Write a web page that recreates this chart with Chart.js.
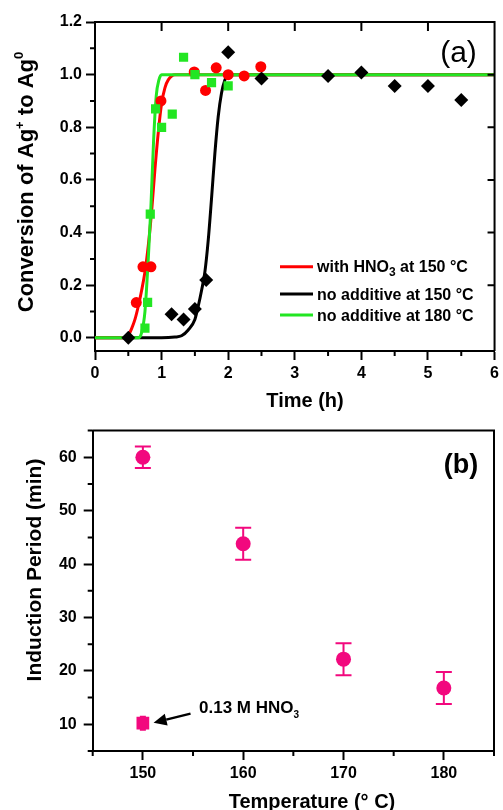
<!DOCTYPE html>
<html>
<head>
<meta charset="utf-8">
<script src="https://cdn.jsdelivr.net/npm/chart.js@4.4.0/dist/chart.umd.min.js"></script>
<style>
  html, body { margin: 0; padding: 0; background: #fff; }
  #wrapA { position: absolute; left: 0; top: 0; width: 503px; height: 414px; }
  #wrapB { position: absolute; left: 0; top: 414px; width: 503px; height: 396px; }
</style>
</head>
<body>
<div id="wrapA"><canvas id="chartA" width="503" height="414"></canvas></div>
<div id="wrapB"><canvas id="chartB" width="503" height="396"></canvas></div>
<script>
// === panel (a): measured points ===
const hno3Time = [0.62, 0.72, 0.84, 0.99, 1.49, 1.66, 1.82, 2.0, 2.24, 2.49];
const hno3Conv = [0.134, 0.27, 0.27, 0.90, 1.01, 0.94, 1.026, 1.0, 0.995, 1.03];
const noAdd150Time = [0.5, 1.15, 1.33, 1.5, 1.67, 2.0, 2.5, 3.5, 4.0, 4.5, 5.0, 5.5];
const noAdd150Conv = [0.0, 0.09, 0.07, 0.11, 0.22, 1.085, 0.985, 0.995, 1.008, 0.957, 0.957, 0.904];
const noAdd180Time = [0.75, 0.79, 0.83, 0.91, 1.0, 1.16, 1.33, 1.5, 1.75, 2.0];
const noAdd180Conv = [0.037, 0.135, 0.47, 0.87, 0.80, 0.85, 1.066, 1.0, 0.97, 0.957];

// fitted curves
const fitHno3Time = [0, 0.4, 0.5, 0.55, 0.6, 0.65, 0.7, 0.75, 0.8, 0.85, 0.9, 0.95, 1.0, 1.05, 1.1, 1.2, 6];
const fitHno3Conv = [0, 0, 0.01, 0.035, 0.07, 0.12, 0.18, 0.25, 0.35, 0.48, 0.64, 0.78, 0.89, 0.95, 0.98, 1.0, 1.0];
const fit150Time = [0, 1.0, 1.2, 1.3, 1.4, 1.5, 1.55, 1.6, 1.65, 1.7, 1.75, 1.8, 1.85, 1.9, 1.95, 2.0, 6];
const fit150Conv = [0, 0, 0.003, 0.008, 0.03, 0.07, 0.12, 0.18, 0.25, 0.37, 0.53, 0.7, 0.84, 0.93, 0.98, 1.0, 1.0];
const fit180Time = [0, 0.65, 0.7, 0.75, 0.8, 0.84, 0.88, 0.92, 0.96, 1.0, 6];
const fit180Conv = [0, 0, 0.02, 0.1, 0.3, 0.5, 0.75, 0.92, 0.98, 1.0, 1.0];

const timeTicks = [0, 1, 2, 3, 4, 5, 6];
const timeMinor = [0.5, 1.5, 2.5, 3.5, 4.5, 5.5];
const convTicks = [0, 0.2, 0.4, 0.6, 0.8, 1.0, 1.2];
const convMinor = [0.1, 0.3, 0.5, 0.7, 0.9, 1.1];

// === panel (b) ===
const tempC = [150, 160, 170, 180];
const inductionMin = [60, 43.8, 22.2, 16.8];
const inductionErr = [2, 3, 3, 3];
const hno3TempC = [150];
const hno3Induction = [10.2];
const hno3Err = [1.2];

const tempTicks = [150, 160, 170, 180];
const tempMinor = [145, 155, 165, 175, 185];
const inductTicks = [10, 20, 30, 40, 50, 60];
const inductMinor = [5, 15, 25, 35, 45, 55, 65];

const RED = '#ff0000', BLACK = '#000000', GREEN = '#22e622', PINK = '#f2087e';
const FONT = '"Liberation Sans", Arial, sans-serif';

function pts(xs, ys) {
  return xs.map((x, i) => ({ x: x, y: ys[i] }));
}

// draw text made of parts [text, size, dy]
function drawRich(ctx, parts, x, y, align) {
  let total = 0;
  parts.forEach(p => {
    ctx.font = (p[3] || 'bold') + ' ' + p[1] + 'px ' + FONT;
    total += ctx.measureText(p[0]).width;
  });
  let cx = align === 'center' ? x - total / 2 : x;
  ctx.textAlign = 'left';
  ctx.textBaseline = 'alphabetic';
  parts.forEach(p => {
    ctx.font = (p[3] || 'bold') + ' ' + p[1] + 'px ' + FONT;
    ctx.fillText(p[0], cx, y + p[2]);
    cx += ctx.measureText(p[0]).width;
  });
}

function axis(min, max, ticks, fmt, fit, isY, pad) {
  return {
    type: 'linear',
    min: min,
    max: max,
    afterBuildTicks: s => { s.ticks = ticks.map(v => ({ value: v })); },
    afterFit: s => { if (isY) s.width = fit; else s.height = fit; },
    ticks: {
      callback: v => fmt(v),
      color: '#000',
      padding: pad,
      font: { family: FONT, size: 16, weight: 'bold' }
    },
    grid: { display: true, drawOnChartArea: false, drawTicks: true, tickLength: 9, tickWidth: 2, tickColor: '#000' },
    border: { display: true, width: 2, color: '#000' }
  };
}

function minorTicks(ctx, chart, xs, ys, len) {
  const a = chart.chartArea;
  ctx.beginPath();
  xs.forEach(v => {
    const px = chart.scales.x.getPixelForValue(v);
    ctx.moveTo(px, a.bottom); ctx.lineTo(px, a.bottom + len);
  });
  ys.forEach(v => {
    const py = chart.scales.y.getPixelForValue(v);
    ctx.moveTo(a.left, py); ctx.lineTo(a.left - len, py);
  });
  ctx.stroke();
}

// === chart (a) ===
const panelA = {
  id: 'panelA',
  afterDraw(chart) {
    const ctx = chart.ctx, a = chart.chartArea;
    const sx = chart.scales.x, sy = chart.scales.y;
    ctx.save();
    ctx.strokeStyle = '#000';
    ctx.lineWidth = 2;
    ctx.beginPath();
    ctx.moveTo(a.left, a.top); ctx.lineTo(a.right, a.top); ctx.lineTo(a.right, a.bottom);
    // inward ticks on top and right
    timeTicks.slice(1, -1).forEach(v => {
      const px = sx.getPixelForValue(v);
      ctx.moveTo(px, a.top); ctx.lineTo(px, a.top + 9);
    });
    convTicks.slice(1, -1).forEach(v => {
      const py = sy.getPixelForValue(v);
      ctx.moveTo(a.right, py); ctx.lineTo(a.right - 7, py);
    });
    ctx.stroke();
    minorTicks(ctx, chart, timeMinor, convMinor, 5);

    ctx.fillStyle = '#000';
    // axis titles
    drawRich(ctx, [['Time (h)', 20, 0]], 305, 407, 'center');
    ctx.save();
    ctx.translate(33, 182);
    ctx.rotate(-Math.PI / 2);
    drawRich(ctx, [['Conversion of Ag', 22, 0], ['+', 13, -9], [' to Ag', 22, 0], ['0', 13, -10]], 0, 0, 'center');
    ctx.restore();
    // panel label
    drawRich(ctx, [['(a)', 30, 0, 'normal']], 458.5, 62, 'center');

    // legend
    const rows = [
      { c: RED, y: 266.7, parts: [['with HNO', 16, 0], ['3', 12, 4], [' at 150 \u00b0C', 16, 0]] },
      { c: BLACK, y: 294, parts: [['no additive at 150 \u00b0C', 16, 0]] },
      { c: GREEN, y: 315, parts: [['no additive at 180 \u00b0C', 16, 0]] }
    ];
    rows.forEach(r => {
      ctx.strokeStyle = r.c;
      ctx.lineWidth = 3;
      ctx.beginPath();
      ctx.moveTo(280, r.y); ctx.lineTo(313, r.y);
      ctx.stroke();
      ctx.fillStyle = '#000';
      drawRich(ctx, r.parts, 317, r.y + 5.5, 'left');
    });
    ctx.restore();
  }
};

const fitStyle = { showLine: true, pointRadius: 0, borderWidth: 3, cubicInterpolationMode: 'monotone' };

new Chart(document.getElementById('chartA'), {
  type: 'scatter',
  data: {
    datasets: [
      { data: pts(noAdd180Time, noAdd180Conv), pointStyle: 'rect', pointRadius: 6.5, backgroundColor: GREEN, borderColor: GREEN, borderWidth: 0 },
      { data: pts(hno3Time, hno3Conv), pointStyle: 'circle', pointRadius: 5.5, backgroundColor: RED, borderColor: RED, borderWidth: 0 },
      { data: pts(noAdd150Time, noAdd150Conv), pointStyle: 'rectRot', pointRadius: 7, backgroundColor: BLACK, borderColor: BLACK, borderWidth: 0 },
      Object.assign({ data: pts(fit180Time, fit180Conv), borderColor: GREEN }, fitStyle),
      Object.assign({ data: pts(fitHno3Time, fitHno3Conv), borderColor: RED }, fitStyle),
      Object.assign({ data: pts(fit150Time, fit150Conv), borderColor: BLACK }, fitStyle)
    ]
  },
  options: {
    responsive: false,
    animation: false,
    layout: { padding: { top: 22, right: 4, left: 0, bottom: 0 } },
    plugins: { legend: { display: false }, tooltip: { enabled: false } },
    scales: {
      x: axis(0, 6, timeTicks, v => String(v), 63, false, 4),
      y: axis(-0.05, 1.2, convTicks, v => v.toFixed(1), 95, true, 4)
    }
  },
  plugins: [panelA]
});

// === chart (b) ===
const panelB = {
  id: 'panelB',
  beforeDatasetsDraw(chart) {
    const ctx = chart.ctx, sx = chart.scales.x, sy = chart.scales.y;
    ctx.save();
    ctx.strokeStyle = PINK;
    ctx.lineWidth = 2;
    ctx.beginPath();
    const bars = (xs, ys, es, cap) => xs.forEach((x, i) => {
      const px = sx.getPixelForValue(x);
      const top = sy.getPixelForValue(ys[i] + es[i]);
      const bot = sy.getPixelForValue(ys[i] - es[i]);
      ctx.moveTo(px, top); ctx.lineTo(px, bot);
      ctx.moveTo(px - cap, top); ctx.lineTo(px + cap, top);
      ctx.moveTo(px - cap, bot); ctx.lineTo(px + cap, bot);
    });
    bars(tempC, inductionMin, inductionErr, 8);
    bars(hno3TempC, hno3Induction, hno3Err, 3);
    ctx.stroke();
    ctx.restore();
  },
  afterDraw(chart) {
    const ctx = chart.ctx, a = chart.chartArea;
    const sx = chart.scales.x, sy = chart.scales.y;
    ctx.save();
    ctx.strokeStyle = '#000';
    ctx.lineWidth = 2;
    ctx.beginPath();
    ctx.moveTo(a.left, a.top); ctx.lineTo(a.right, a.top); ctx.lineTo(a.right, a.bottom);
    ctx.stroke();
    minorTicks(ctx, chart, tempMinor, inductMinor, 5);

    ctx.fillStyle = '#000';
    drawRich(ctx, [['Temperature (\u00b0 C)', 20, 0]], 312, 394, 'center');
    ctx.save();
    ctx.translate(41, 570 - 414);
    ctx.rotate(-Math.PI / 2);
    drawRich(ctx, [['Induction Period (min)', 21, 0]], 0, 0, 'center');
    ctx.restore();
    drawRich(ctx, [['(b)', 27, 0]], 461, 59, 'center');

    // annotation with arrow
    const tx = sx.getPixelForValue(155.6), ty = sy.getPixelForValue(12.1);
    drawRich(ctx, [['0.13 M HNO', 17, 0], ['3', 10, 5]], tx, ty, 'left');
    const x0 = sx.getPixelForValue(154.75), y0 = sy.getPixelForValue(12.0);
    const x1 = sx.getPixelForValue(151.07), y1 = sy.getPixelForValue(10.3);
    const ang = Math.atan2(y1 - y0, x1 - x0);
    const hl = 13, hw = 6;
    const bx = x1 - hl * Math.cos(ang), by = y1 - hl * Math.sin(ang);
    ctx.lineWidth = 2.5;
    ctx.beginPath();
    ctx.moveTo(x0, y0); ctx.lineTo(bx, by);
    ctx.stroke();
    ctx.beginPath();
    ctx.moveTo(x1, y1);
    ctx.lineTo(bx + hw * Math.sin(ang), by - hw * Math.cos(ang));
    ctx.lineTo(bx - hw * Math.sin(ang), by + hw * Math.cos(ang));
    ctx.closePath();
    ctx.fill();
    ctx.restore();
  }
};

new Chart(document.getElementById('chartB'), {
  type: 'scatter',
  data: {
    datasets: [
      { data: pts(tempC, inductionMin), pointStyle: 'circle', pointRadius: 7.5, backgroundColor: PINK, borderColor: PINK, borderWidth: 0 },
      { data: pts(hno3TempC, hno3Induction), pointStyle: 'rect', pointRadius: 9, backgroundColor: PINK, borderColor: PINK, borderWidth: 0 }
    ]
  },
  options: {
    responsive: false,
    animation: false,
    layout: { padding: { top: 10.5, right: 4, left: 0, bottom: 0 } },
    plugins: { legend: { display: false }, tooltip: { enabled: false } },
    scales: {
      x: axis(145, 185, tempTicks, v => String(v), 59, false, 4),
      y: axis(5, 65, inductTicks, v => String(v), 92.7, true, 7)
    }
  },
  plugins: [panelB]
});
</script>
</body>
</html>
